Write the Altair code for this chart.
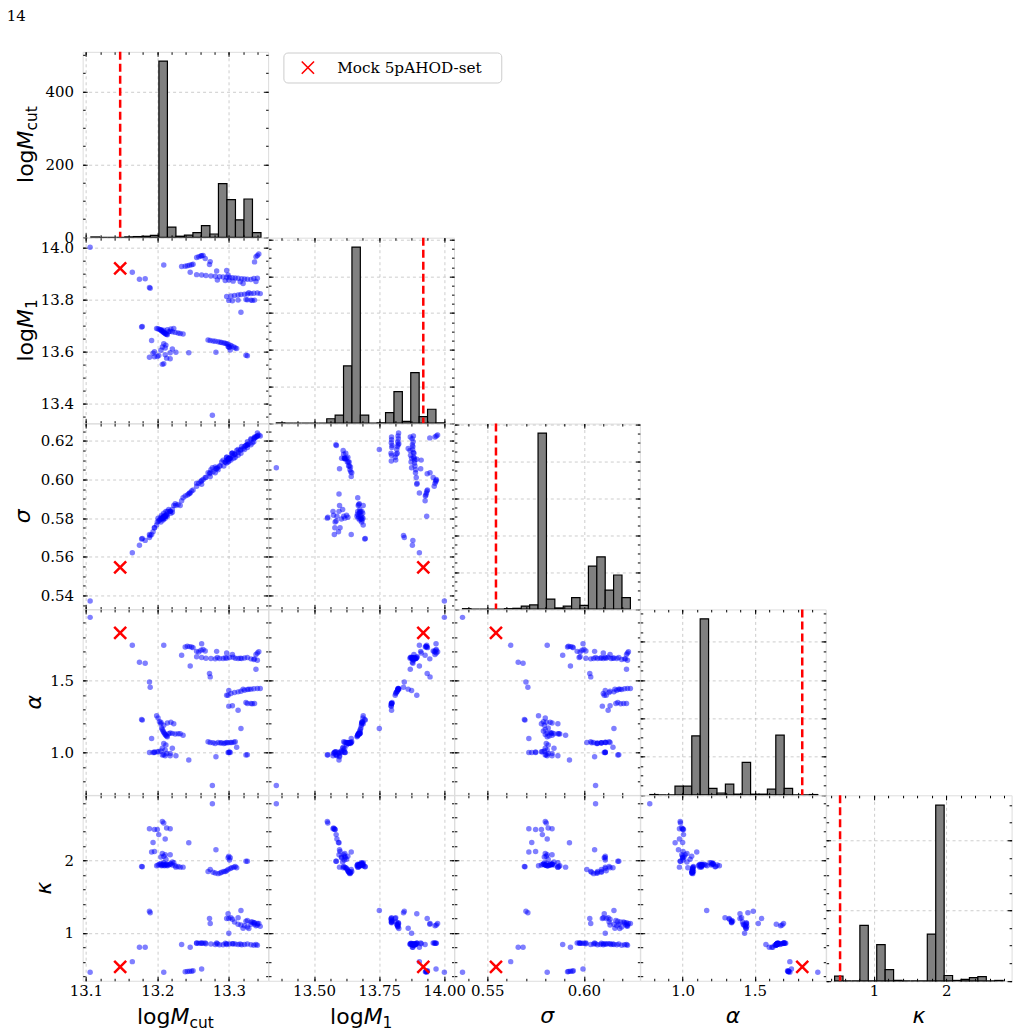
import math
import altair as alt
import pandas as pd

PARAMS = ["mcut", "m1", "sigma", "alpha", "kappa"]

# ---------------- data: (logMcut, logM1, sigma, alpha, kappa) per plotted sample ----------------
isolated = [
    (13.106, 14.001, 0.5372, 1.938, 0.454),
    (13.277, 13.355, 0.6060, 0.772, 2.787),
    (13.209, 13.933, 0.5810, 1.744, 0.454),
    (13.165, 13.905, 0.5621, 1.744, 0.602),
    (13.175, 13.878, 0.5660, 1.626, 0.800),
    (13.183, 13.880, 0.5685, 1.619, 0.800),
    (13.189, 13.847, 0.5700, 1.490, 1.300),
    (13.190, 13.844, 0.5710, 1.453, 1.280),
    (13.178, 13.695, 0.5692, 1.230, 1.920),
    (13.179, 13.697, 0.5695, 1.225, 1.915),
    (13.317, 13.751, 0.6155, 1.167, 1.310),
    (13.244, 13.596, 0.5925, 0.948, 2.246),
    (13.234, 13.927, 0.5890, 1.675, 0.840),
    (13.246, 13.905, 0.5930, 1.601, 0.800),
    (13.273, 13.935, 0.6030, 1.548, 1.200),
    (13.274, 13.946, 0.6035, 1.525, 1.130),
    (13.299, 13.895, 0.6105, 1.398, 1.264),
    (13.300, 13.875, 0.6110, 1.430, 0.995),
    (13.320, 13.862, 0.6160, 1.440, 1.065),
]
group_main = [
    (13.199, 13.689, 0.5765, 1.255, 1.930),
    (13.201, 13.688, 0.5800, 1.240, 1.940),
    (13.203, 13.685, 0.5790, 1.213, 1.950),
    (13.205, 13.683, 0.5780, 1.200, 1.940),
    (13.206, 13.680, 0.5815, 1.170, 1.930),
    (13.207, 13.678, 0.5800, 1.160, 1.940),
    (13.208, 13.676, 0.5790, 1.150, 1.950),
    (13.209, 13.674, 0.5825, 1.140, 1.940),
    (13.210, 13.672, 0.5810, 1.133, 1.930),
    (13.211, 13.670, 0.5800, 1.125, 1.940),
    (13.212, 13.668, 0.5835, 1.120, 1.950),
    (13.213, 13.667, 0.5820, 1.115, 1.940),
    (13.214, 13.665, 0.5810, 1.110, 1.930),
    (13.216, 13.676, 0.5845, 1.130, 1.940),
    (13.218, 13.678, 0.5835, 1.135, 1.950),
    (13.221, 13.676, 0.5830, 1.133, 1.940),
    (13.225, 13.674, 0.5875, 1.128, 1.930),
    (13.229, 13.672, 0.5870, 1.130, 1.920),
    (13.232, 13.670, 0.5865, 1.130, 1.910),
    (13.236, 13.668, 0.5905, 1.120, 1.910),
    (13.205, 13.684, 0.5805, 1.210, 1.960),
    (13.209, 13.682, 0.5795, 1.190, 1.970),
    (13.214, 13.684, 0.5835, 1.205, 1.950),
    (13.219, 13.687, 0.5825, 1.210, 1.960),
    (13.223, 13.689, 0.5865, 1.200, 1.970),
    (13.192, 13.643, 0.5715, 1.098, 2.120),
    (13.209, 13.630, 0.5805, 1.063, 2.060),
    (13.212, 13.625, 0.5815, 1.052, 2.020),
    (13.207, 13.618, 0.5800, 1.030, 2.100),
    (13.211, 13.614, 0.5810, 1.017, 2.080),
]
group_low_m1 = [
    (13.207, 13.551, 0.5800, 0.983, 2.540),
    (13.209, 13.553, 0.5805, 0.985, 2.520),
    (13.213, 13.575, 0.5815, 0.994, 2.450),
    (13.218, 13.573, 0.5835, 0.978, 2.440),
    (13.189, 13.578, 0.5715, 1.001, 2.440),
    (13.196, 13.580, 0.5750, 1.001, 2.430),
    (13.200, 13.581, 0.5780, 1.006, 2.430),
    (13.202, 13.585, 0.5785, 1.006, 2.360),
    (13.211, 13.588, 0.5810, 0.978, 2.300),
    (13.194, 13.594, 0.5730, 1.000, 2.250),
    (13.196, 13.600, 0.5750, 1.003, 2.125),
    (13.205, 13.605, 0.5795, 1.010, 2.050),
    (13.218, 13.596, 0.5835, 0.994, 2.080),
    (13.226, 13.598, 0.5865, 0.978, 1.910),
    (13.221, 13.610, 0.5845, 1.030, 1.980),
]
group_mid = [
    (13.271, 13.645, 0.6035, 1.075, 1.850),
    (13.274, 13.643, 0.6015, 1.070, 1.876),
    (13.278, 13.641, 0.6040, 1.068, 1.840),
    (13.281, 13.640, 0.6065, 1.063, 1.830),
    (13.285, 13.638, 0.6050, 1.070, 1.820),
    (13.288, 13.636, 0.6070, 1.066, 1.830),
    (13.290, 13.635, 0.6090, 1.068, 1.840),
    (13.293, 13.633, 0.6070, 1.063, 1.850),
    (13.295, 13.632, 0.6090, 1.066, 1.850),
    (13.297, 13.630, 0.6115, 1.070, 1.860),
    (13.299, 13.628, 0.6090, 1.068, 1.876),
    (13.302, 13.625, 0.6110, 1.070, 1.890),
    (13.304, 13.622, 0.6135, 1.070, 1.900),
    (13.307, 13.618, 0.6110, 1.072, 1.910),
    (13.309, 13.614, 0.6130, 1.075, 1.920),
    (13.311, 13.612, 0.6150, 1.036, 1.900),
    (13.299, 13.620, 0.6105, 1.001, 2.040),
    (13.300, 13.618, 0.6110, 1.000, 2.060),
    (13.301, 13.616, 0.6110, 1.003, 2.010),
    (13.302, 13.606, 0.6110, 1.000, 2.040),
    (13.282, 13.598, 0.6055, 0.971, 2.150),
    (13.324, 13.586, 0.6175, 0.983, 1.990),
    (13.326, 13.584, 0.6180, 0.985, 1.990),
]
group_band = [
    (13.255, 13.896, 0.5980, 1.665, 0.855),
    (13.262, 13.895, 0.5975, 1.660, 0.860),
    (13.268, 13.893, 0.6010, 1.655, 0.850),
    (13.275, 13.891, 0.6050, 1.652, 0.845),
    (13.281, 13.890, 0.6035, 1.650, 0.840),
    (13.287, 13.888, 0.6070, 1.652, 0.835),
    (13.292, 13.887, 0.6100, 1.652, 0.835),
    (13.297, 13.886, 0.6085, 1.655, 0.840),
    (13.301, 13.885, 0.6110, 1.660, 0.845),
    (13.305, 13.884, 0.6135, 1.680, 0.850),
    (13.309, 13.883, 0.6115, 1.655, 0.845),
    (13.313, 13.882, 0.6140, 1.653, 0.840),
    (13.318, 13.880, 0.6170, 1.653, 0.835),
    (13.322, 13.879, 0.6155, 1.656, 0.840),
    (13.326, 13.878, 0.6180, 1.660, 0.845),
    (13.331, 13.877, 0.6210, 1.650, 0.835),
    (13.335, 13.881, 0.6195, 1.645, 0.830),
    (13.340, 13.882, 0.6225, 1.640, 0.830),
    (13.338, 13.870, 0.6220, 1.578, 0.840),
    (13.284, 13.875, 0.6060, 1.660, 0.850),
    (13.295, 13.873, 0.6090, 1.658, 0.855),
    (13.306, 13.871, 0.6125, 1.662, 0.850),
    (13.316, 13.869, 0.6150, 1.655, 0.845),
    (13.283, 13.910, 0.6055, 1.702, 0.860),
    (13.297, 13.912, 0.6100, 1.690, 0.850),
]
group_top_m1 = [
    (13.239, 13.928, 0.5915, 1.732, 0.462),
    (13.242, 13.930, 0.5920, 1.737, 0.465),
    (13.245, 13.932, 0.5930, 1.735, 0.470),
    (13.248, 13.934, 0.5940, 1.732, 0.468),
    (13.250, 13.936, 0.5945, 1.728, 0.475),
    (13.255, 13.962, 0.5965, 1.702, 0.860),
    (13.258, 13.965, 0.5980, 1.698, 0.858),
    (13.261, 13.968, 0.5990, 1.710, 0.855),
    (13.264, 13.970, 0.6000, 1.715, 0.857),
    (13.262, 13.969, 0.5995, 1.755, 0.500),
    (13.267, 13.958, 0.6010, 1.705, 0.860),
]
group_high_mcut = [
    (13.297, 13.812, 0.6115, 1.398, 1.200),
    (13.303, 13.814, 0.6100, 1.409, 1.210),
    (13.308, 13.816, 0.6130, 1.416, 1.150),
    (13.313, 13.818, 0.6155, 1.421, 1.120),
    (13.317, 13.820, 0.6135, 1.425, 1.110),
    (13.322, 13.821, 0.6170, 1.433, 1.100),
    (13.326, 13.822, 0.6195, 1.437, 1.080),
    (13.331, 13.823, 0.6180, 1.440, 1.120),
    (13.335, 13.824, 0.6210, 1.442, 1.140),
    (13.340, 13.825, 0.6240, 1.444, 1.130),
    (13.344, 13.823, 0.6225, 1.445, 1.090),
    (13.328, 13.826, 0.6185, 1.440, 1.060),
    (13.300, 13.797, 0.6095, 1.322, 1.200),
    (13.305, 13.796, 0.6135, 1.325, 1.190),
    (13.313, 13.798, 0.6125, 1.294, 1.210),
    (13.324, 13.800, 0.6175, 1.347, 1.160),
    (13.326, 13.799, 0.6165, 1.340, 1.170),
    (13.331, 13.798, 0.6205, 1.340, 1.150),
    (13.333, 13.797, 0.6190, 1.338, 1.150),
    (13.336, 13.798, 0.6220, 1.340, 1.140),
    (13.336, 13.945, 0.6215, 1.650, 1.120),
    (13.340, 13.970, 0.6225, 1.690, 1.110),
    (13.342, 13.975, 0.6230, 1.700, 1.130),
    (13.338, 13.965, 0.6220, 1.680, 1.100),
]

mock_values = {"mcut": 13.148, "m1": 13.920, "sigma": 0.5545, "alpha": 1.830, "kappa": 0.530}
mock_label = "Mock 5pAHOD-set"
page_number = "14"

# histogram counts (20 bins spanning the sample range)
hist_counts = {
    "mcut":  [1, 0, 0, 0, 1, 2, 3, 5, 483, 28, 3, 6, 13, 32, 9, 147, 103, 48, 105, 13],
    "m1":    [1, 0, 0, 0, 0, 0, 12, 22, 156, 480, 22, 0, 1, 29, 86, 5, 138, 18, 38, 1],
    "sigma": [1, 0, 0, 0, 0, 1, 2, 8, 11, 476, 27, 3, 8, 31, 10, 116, 141, 51, 92, 31],
    "alpha": [1, 0, 0, 23, 23, 154, 460, 17, 5, 28, 2, 85, 2, 2, 15, 156, 17, 0, 0, 1],
    "kappa": [13, 0, 0, 158, 0, 103, 32, 1, 0, 0, 0, 133, 500, 15, 1, 4, 9, 12, 0, 1],
}
hist_span = {"mcut": (13.107, 13.345), "m1": (13.355, 14.001), "sigma": (0.5372, 0.6240),
             "alpha": (0.772, 1.938), "kappa": (0.454, 2.787)}
count_top = {"mcut": 508.5, "m1": 505.7, "sigma": 501.6, "alpha": 484.6, "kappa": 528.0}
count_major = {"mcut": [0, 200, 400], "m1": [0, 100, 200, 300, 400, 500],
               "sigma": [0, 100, 200, 300, 400, 500], "alpha": [0, 100, 200, 300, 400],
               "kappa": [0, 200, 400]}
count_minor = {"mcut": 50, "m1": 25, "sigma": 25, "alpha": 25, "kappa": 50}

# axis ranges and ticks
domains = {"mcut": (13.0955, 13.355), "m1": (13.325, 14.038), "sigma": (0.533, 0.6289),
           "alpha": (0.706, 1.993), "kappa": (0.337, 2.904)}
x_major = {"mcut": [13.1, 13.2, 13.3], "m1": [13.5, 13.75, 14.0], "sigma": [0.55, 0.60],
           "alpha": [1.0, 1.5], "kappa": [1, 2]}
x_minor = {"mcut": 0.02, "m1": 0.0625, "sigma": 0.01, "alpha": 0.1, "kappa": 0.2}
x_fmt = {"mcut": ".1f", "m1": ".2f", "sigma": ".2f", "alpha": ".1f", "kappa": "d"}
y_major = {"m1": [13.4, 13.6, 13.8, 14.0], "sigma": [0.54, 0.56, 0.58, 0.60, 0.62],
           "alpha": [1.0, 1.5], "kappa": [1, 2]}
y_minor = {"m1": 0.05, "sigma": 0.005, "alpha": 0.1, "kappa": 0.2}
y_fmt = {"m1": ".1f", "sigma": ".2f", "alpha": ".1f", "kappa": "d"}

# title pieces: (text, italic, relative size, baseline shift)
title_parts = {
    "mcut": [("log", False, 1.0, 0), ("M", True, 1.0, 0), ("cut", False, 0.7, 4)],
    "m1": [("log", False, 1.0, 0), ("M", True, 1.0, 0), ("1", False, 0.7, 4)],
    "sigma": [("σ", True, 1.0, 0)],
    "alpha": [("α", True, 1.0, 0)],
    "kappa": [("κ", True, 1.0, 0)],
}
char_w = {"l": 0.278, "o": 0.612, "g": 0.635, "M": 0.863, "c": 0.550, "u": 0.634,
          "t": 0.392, "1": 0.636, "σ": 0.602, "α": 0.659, "κ": 0.592}

# ---------------- layout / style ----------------
W = H = 185.6
MAJ, MIN = 4.5, 2.5
TFS = 22
XT_BASE = 228.5
YT_BASE = [-50.0, -50.0, -52.5, -42.0, -31.5]
SERIF = "DejaVu Serif"
SANS = "DejaVu Sans"

samples = pd.DataFrame(isolated + group_main + group_low_m1 + group_mid + group_band
                       + group_top_m1 + group_high_mcut, columns=PARAMS)


def grid_ticks(lo, hi, step):
    k0 = math.ceil(lo / step - 1e-9)
    k1 = math.floor(hi / step + 1e-9)
    return [round(k * step, 6) for k in range(k0, k1 + 1)]


def make_axis(orient, values, size, grid=False, labels=False, fmt=None, zindex=1):
    kw = dict(orient=orient, values=values, tickSize=size, offset=-size, domain=False,
              ticks=True, tickColor="black", tickWidth=1, grid=grid, labels=labels,
              title=None, zindex=zindex)
    if grid:
        kw.update(gridColor="#b0b0b0", gridDash=[3, 3], gridWidth=0.8, gridOpacity=0.8)
    if labels:
        kw.update(labelFont=SERIF, labelFontSize=15, labelColor="black", labelFlush=False,
                  labelOverlap=False, labelBound=False, format=fmt,
                  labelPadding=9 if orient == "left" else 3)
    return alt.Axis(**kw)


def scale(dom):
    return alt.Scale(domain=list(dom), nice=False, zero=False)


def tick_layers(xd, yd, xmaj, xmin, ymaj, ymin):
    df = pd.DataFrame({"fx": list(xd), "fy": list(yd)})
    out = []
    for xo, yo, xv, yv, sz in [("top", "right", xmaj, ymaj, MAJ),
                                ("bottom", "left", xmin, ymin, MIN),
                                ("top", "right", xmin, ymin, MIN)]:
        out.append(alt.Chart(df).mark_point(opacity=0).encode(
            x=alt.X("fx:Q", scale=scale(xd), axis=make_axis(xo, xv, sz)),
            y=alt.Y("fy:Q", scale=scale(yd), axis=make_axis(yo, yv, sz))))
    return out


def text_layer(text, x, y, size, italic=False, angle=0, font=SANS, align="left", baseline="alphabetic"):
    return alt.Chart(pd.DataFrame({"t": [text]})).mark_text(
        align=align, baseline=baseline, font=font, fontSize=size,
        fontStyle="italic" if italic else "normal", angle=angle, color="black"
    ).encode(x=alt.value(x), y=alt.value(y), text="t:N")


def part_width(text, rel):
    return sum(char_w.get(ch, 0.6) for ch in text) * TFS * rel


def x_title(p):
    parts = title_parts[p]
    if len(parts) == 1:
        t, it, rel, sh = parts[0]
        return [text_layer(t, W / 2, XT_BASE - 1, TFS * rel, it, align="center")]
    total = sum(part_width(t, rel) for t, _, rel, _ in parts)
    x = W / 2 - total / 2
    out = []
    for t, it, rel, sh in parts:
        out.append(text_layer(t, x, XT_BASE + sh, TFS * rel, it))
        x += part_width(t, rel)
    return out


def y_title(p, row):
    parts = title_parts[p]
    bx = YT_BASE[row]
    if len(parts) == 1:
        t, it, rel, sh = parts[0]
        return [text_layer(t, bx, H / 2, TFS * rel, it, angle=270, align="center")]
    total = sum(part_width(t, rel) for t, _, rel, _ in parts)
    y = H / 2 + total / 2
    out = []
    for t, it, rel, sh in parts:
        out.append(text_layer(t, bx + sh, y, TFS * rel, it, angle=270))
        y -= part_width(t, rel)
    return out


def hist_panel(i):
    p = PARAMS[i]
    counts = hist_counts[p]
    lo, hi = hist_span[p]
    n = len(counts)
    edges = [lo + (hi - lo) * k / n for k in range(n + 1)]
    hdf = pd.DataFrame({"lo": edges[:-1], "hi": edges[1:], "n": counts, "base": [0] * n})
    xd = domains[p]
    yd = (0, count_top[p])
    bars = alt.Chart(hdf).mark_bar(color="#808080", stroke="black", strokeWidth=1.2).encode(
        x=alt.X("lo:Q", scale=scale(xd),
                axis=make_axis("bottom", x_major[p], MAJ, grid=True, labels=(i == 4), fmt=x_fmt[p], zindex=0)),
        x2="hi:Q",
        y=alt.Y("n:Q", scale=scale(yd), stack=None,
                axis=make_axis("left", count_major[p], MAJ, grid=True, labels=(i == 0), fmt="d", zindex=0)),
        y2="base:Q")
    line = alt.Chart(pd.DataFrame({"v": [mock_values[p]]})).mark_rule(
        color="red", strokeDash=[8, 4], strokeWidth=2.5).encode(
        x=alt.X("v:Q", scale=scale(xd), axis=None))
    layers = [bars, line] + tick_layers(xd, yd, x_major[p], grid_ticks(*xd, x_minor[p]),
                                        count_major[p], grid_ticks(*yd, count_minor[p]))
    if i == 0:
        layers += y_title(p, 0)
        layers.append(text_layer(page_number, -76, -43, 15, font=SERIF, baseline="top"))
    if i == 4:
        layers += x_title(p)
    return alt.layer(*layers).resolve_axis(x="independent", y="independent").properties(width=W, height=H)


def scatter_panel(row, col):
    px, py = PARAMS[col], PARAMS[row]
    xd, yd = domains[px], domains[py]
    pts = alt.Chart(samples).mark_circle(size=30, color="blue", opacity=0.5).encode(
        x=alt.X(f"{px}:Q", scale=scale(xd),
                axis=make_axis("bottom", x_major[px], MAJ, grid=True, labels=(row == 4), fmt=x_fmt[px], zindex=0)),
        y=alt.Y(f"{py}:Q", scale=scale(yd),
                axis=make_axis("left", y_major[py], MAJ, grid=True, labels=(col == 0), fmt=y_fmt[py], zindex=0)))
    mk = alt.Chart(pd.DataFrame({px: [mock_values[px]], py: [mock_values[py]]})).mark_point(
        shape="M-1,-1L1,1M-1,1L1,-1", size=144, filled=False, color="red", strokeWidth=2.5, opacity=1
    ).encode(x=alt.X(f"{px}:Q", scale=scale(xd), axis=None),
             y=alt.Y(f"{py}:Q", scale=scale(yd), axis=None))
    layers = [pts, mk] + tick_layers(xd, yd, x_major[px], grid_ticks(*xd, x_minor[px]),
                                     y_major[py], grid_ticks(*yd, y_minor[py]))
    if col == 0:
        layers += y_title(py, row)
    if row == 4:
        layers += x_title(px)
    return alt.layer(*layers).resolve_axis(x="independent", y="independent").properties(width=W, height=H)


def empty_panel():
    return alt.Chart(pd.DataFrame({"a": [0, 1]})).mark_point(opacity=0).encode(
        x=alt.X("a:Q", axis=None), y=alt.Y("a:Q", axis=None)
    ).properties(width=W, height=H, view=alt.ViewBackground(stroke=None))


def legend_panel():
    box = alt.Chart(pd.DataFrame({"a": [0]})).mark_rect(
        fill="white", stroke="#cccccc", strokeWidth=1, cornerRadius=4).encode(
        x=alt.value(15.4), x2=alt.value(233.4), y=alt.value(1.2), y2=alt.value(31.2))
    sym = alt.Chart(pd.DataFrame({"a": [0]})).mark_point(
        shape="M-1,-1L1,1M-1,1L1,-1", size=150, filled=False, color="red", strokeWidth=1.6, opacity=1
    ).encode(x=alt.value(39.4), y=alt.value(15.8))
    lab = text_layer(mock_label, 68.7, 16.5, 15.3, font=SERIF, baseline="middle")
    return alt.layer(box, sym, lab).properties(width=W, height=H, view=alt.ViewBackground(stroke=None))


cells = []
for r in range(5):
    for c in range(5):
        if r == c:
            cells.append(hist_panel(r))
        elif r > c:
            cells.append(scatter_panel(r, c))
        elif r == 0 and c == 1:
            cells.append(legend_panel())
        else:
            cells.append(empty_panel())

chart = alt.concat(*cells, columns=5, spacing=0, bounds="flush").properties(
    padding={"left": 5.7, "top": 7.5, "right": 5, "bottom": 0}
).configure_view(stroke="#262626", strokeWidth=1.1).configure(background="white")

chart.save("out.html", embed_options={"renderer": "svg", "actions": False})
